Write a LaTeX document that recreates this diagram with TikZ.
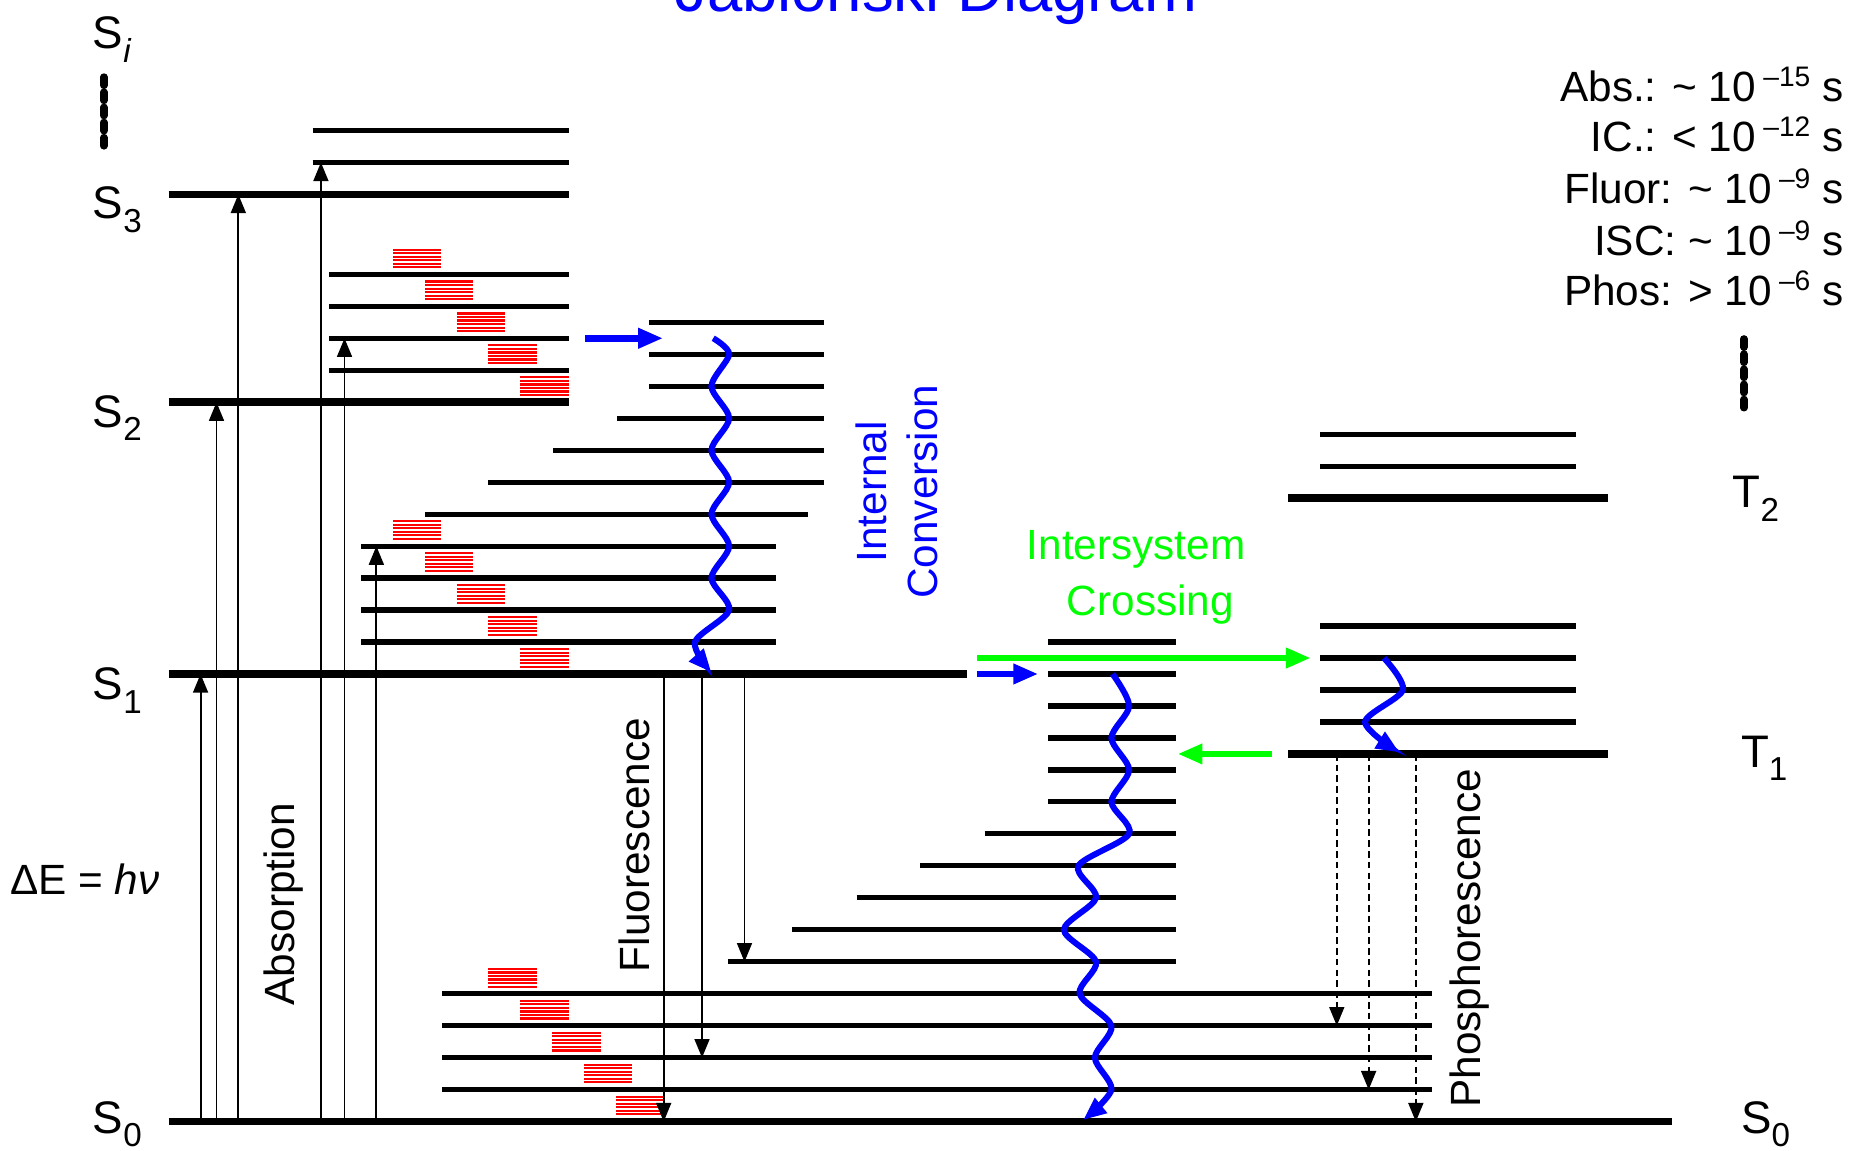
\documentclass[tikz,border=0pt]{standalone}
\usepackage{fontspec}
\setmainfont{Liberation Sans}
\usetikzlibrary{arrows.meta}
\definecolor{icblue}{HTML}{0000FF}
\definecolor{iscgreen}{HTML}{00FF00}
\definecolor{vibred}{HTML}{FF0000}
\newcommand{\lsub}[1]{\raisebox{-3.3pt}{\fontsize{8}{8}\selectfont #1}}
\newcommand{\lsup}[1]{\kern1.8pt\raisebox{3.6pt}{\fontsize{6.8}{6.8}\selectfont #1}}
\tikzset{
  state/.style={line width=1.8pt},
  vib/.style={line width=1.25pt},
  hatchline/.style={draw=vibred,line width=0.5pt},
  vibhatch/.pic={\foreach \k in {0,...,5} \draw[hatchline] (0,{-0.275+0.11*\k}) -- ++(0.41,0);},
  absarr/.style={-{Triangle[length=4.5pt,width=3.6pt]},line width=0.45pt},
  phosarr/.style={absarr,dash pattern=on 1.6pt off 1pt},
  bluearr/.style={-{Triangle[length=6pt,width=4.6pt]},line width=1.6pt,draw=icblue},
  greenarr/.style={-{Triangle[length=6pt,width=4.6pt]},line width=1.6pt,draw=iscgreen},
  wave/.style={-{Triangle[length=5.6pt,width=4.4pt]},line width=1.45pt,draw=icblue,fill=none},
  dots/.style={line width=1.8pt,line cap=round,dash pattern=on 2pt off 1.65pt},
  lbl/.style={font=\fontsize{11}{13}\selectfont,inner sep=0pt,anchor=base west},
  txt/.style={font=\fontsize{10.2}{12.4}\selectfont,inner sep=0pt}
}

\begin{document}
\begin{tikzpicture}[x=1cm,y=0.271cm]
    \useasboundingbox (0,-0.9) rectangle (15.68,35.08);
    \node[font=\fontsize{15.3}{18}\selectfont,text=icblue,anchor=base,inner sep=0pt]
      (title) at (7.935,34.71) {Jablonski Diagram};

    % singlet manifold
    \draw[state] (1.43,0) -- (14.17,0);
    \draw[state] (1.43,14) -- (8.20,14);
    \draw[state] (1.43,22.5) -- (4.82,22.5);
    \draw[state] (1.43,29) -- (4.82,29);
    \foreach \y in {30,31} \draw[vib] (2.65,\y) -- (4.82,\y);
    \foreach \y in {23.5,24.5,25.5,26.5} \draw[vib] (2.79,\y) -- (4.82,\y);
    \foreach \y in {15,...,18} \draw[vib] (3.06,\y) -- (6.58,\y);
    \draw[vib] (3.60,19) -- (6.85,19);
    \foreach \y/\x in {20/4.14,21/4.69,22/5.23,23/5.50,24/5.50,25/5.50}
      \draw[vib] (\x,\y) -- (6.98,\y);
    \foreach \y in {1,...,4} \draw[vib] (3.75,\y) -- (12.14,\y);
    \foreach \y/\x in {5/6.17,6/6.715,7/7.26,8/7.80,9/8.345,10/8.885,11/8.885,
                       12/8.885,13/8.885,14/8.885,15/8.885}
      \draw[vib] (\x,\y) -- (9.97,\y);

    % triplet manifold
    \draw[state] (10.92,11.5) -- (13.63,11.5);
    \draw[state] (10.92,19.5) -- (13.63,19.5);
    \foreach \y in {12.5,13.5,14.5,15.5,20.5,21.5} \draw[vib] (11.19,\y) -- (13.36,\y);

    \foreach \i in {0,...,4} {
      \pic at ({3.33+0.27*\i},{27-\i}) {vibhatch};
      \pic at ({3.33+0.27*\i},{18.5-\i}) {vibhatch};
      \pic at ({4.14+0.27*\i},{4.5-\i}) {vibhatch};
    }

    \draw[dots] (0.88,32.67) -- (0.88,30.51);
    \draw[dots] (14.78,24.48) -- (14.78,22.32);

    % radiative transitions
    \foreach \x/\y in {1.70/14,1.835/22.5,2.02/29,2.72/30,2.92/24.5,3.19/18}
      \draw[absarr] (\x,0) -- (\x,\y);
    \foreach \x/\y in {5.625/0,5.95/2,6.31/5}
      \draw[absarr] (\x,14) -- (\x,\y);
    \foreach \x/\y in {11.33/3,11.60/1,12.00/0}
      \draw[phosarr] (\x,11.5) -- (\x,\y);

    % non-radiative transitions
    \draw[bluearr] (4.96,24.5) -- (5.62,24.5);
    \draw[bluearr] (8.28,14) -- (8.80,14);
    \draw[greenarr] (8.28,14.5) -- (11.11,14.5);
    \draw[greenarr] (10.78,11.5) -- (9.98,11.5);
    \draw[wave] plot[smooth] coordinates {(6.045,24.5) (6.18,24) (6.03,23) (6.18,22)
      (6.03,21) (6.18,20) (6.03,19) (6.18,18) (6.03,17) (6.18,16) (5.89,15) (6.03,14.05)};
    \draw[wave] plot[smooth] coordinates {(9.43,14) (9.57,13) (9.42,12) (9.57,11)
      (9.42,10) (9.57,9) (9.14,8) (9.29,7) (9.017,6) (9.29,5) (9.15,4) (9.42,3)
      (9.28,2) (9.42,1) (9.18,0.05)};
    \draw[wave] plot[smooth] coordinates {(11.73,14.5) (11.89,13.5) (11.57,12.5) (11.86,11.55)};

    \node[lbl] (si) at (0.78,33.56) {S\lsub{\textit{i}}};
    \node[lbl] (s3) at (0.78,28.25) {S\lsub{3}};
    \node[lbl] (s2) at (0.78,21.72) {S\lsub{2}};
    \node[lbl] (s1) at (0.78,13.2) {S\lsub{1}};
    \node[lbl] (s0) at (0.78,-0.36) {S\lsub{0}};
    \node[lbl] (t2) at (14.68,19.2) {T\lsub{2}};
    \node[lbl] (t1) at (14.75,11.09) {T\lsub{1}};
    \node[lbl] (s0r) at (14.75,-0.36) {S\lsub{0}};

    \node[txt,anchor=base west] (de) at (0.08,7.09) {ΔE = \textit{hν}};
    \node[txt,rotate=90,anchor=base] (absl) at (2.50,6.8) {Absorption};
    \node[txt,rotate=90,anchor=base] (fluol) at (5.505,8.65) {Fluorescence};
    \node[txt,rotate=90,anchor=base] (phosl) at (12.55,5.74) {Phosphorescence};
    \node[txt,rotate=90,align=center,text=icblue] (icl) at (7.60,19.7)
      {Internal\\Conversion};
    \node[txt,align=center,text=iscgreen,font=\fontsize{10.2}{13.7}\selectfont]
      (iscl) at (9.63,17.02) {Intersystem\\\hspace*{0.24cm}Crossing};

    \node[txt,anchor=base east] (tabs) at (15.63,31.9) {Abs.: \textasciitilde\ 10\lsup{–15} s};
    \node[txt,anchor=base east] (tic) at (15.63,30.34) {IC.: < 10\lsup{–12} s};
    \node[txt,anchor=base east] (tfl) at (15.63,28.73) {Fluor: \textasciitilde\ 10\lsup{–9} s};
    \node[txt,anchor=base east] (tisc) at (15.63,27.1) {ISC: \textasciitilde\ 10\lsup{–9} s};
    \node[txt,anchor=base east] (tph) at (15.63,25.54) {Phos: > 10\lsup{–6} s};
  \end{tikzpicture}
\end{document}
